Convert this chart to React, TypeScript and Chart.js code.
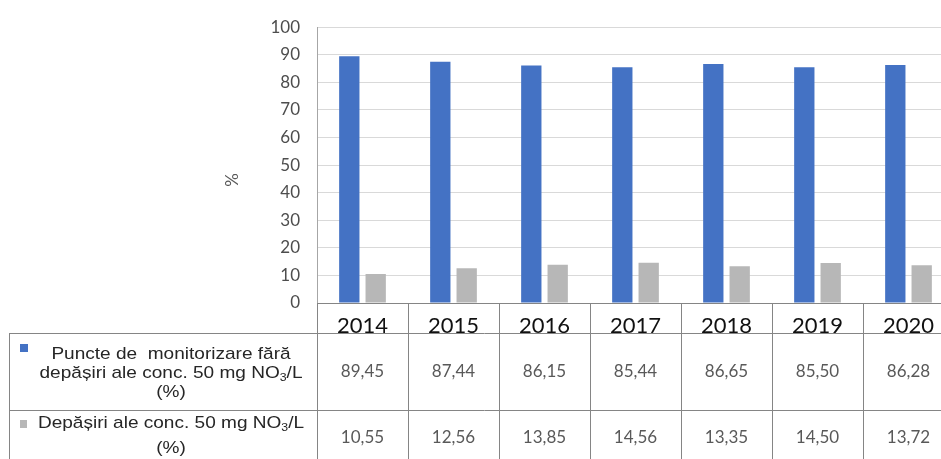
import React, { useEffect, useRef } from "react";
import { Chart, registerables } from "chart.js";
Chart.register(...registerables);

const years = ["2014", "2015", "2016", "2017", "2018", "2019", "2020"];
const withoutExceed = [89.45, 87.44, 86.15, 85.44, 86.65, 85.5, 86.28];
const exceed = [10.55, 12.56, 13.85, 14.56, 13.35, 14.5, 13.72];
const seriesNames = [
  ["Puncte de  monitorizare fără", "depășiri ale conc. 50 mg NO₃/L", "(%)"],
  ["Depășiri ale conc. 50 mg NO₃/L", "(%)"],
];
const seriesColors = ["#4472c4", "#b7b7b7"];
const yTitle = "%";
const yMin = 0;
const yMax = 100;
const yStep = 10;

function drawRich(ctx: CanvasRenderingContext2D, text: string, cx: number, cy: number, size: number, sx: number) {
  const parts = text.split("₃");
  const font = `${size}px "Liberation Sans", Arial, sans-serif`;
  const subFont = `${Math.round(size * 0.62)}px "Liberation Sans", Arial, sans-serif`;
  let total = 0;
  const widths: number[] = [];
  parts.forEach((p, i) => {
    ctx.font = font;
    const w = ctx.measureText(p).width;
    widths.push(w);
    total += w;
    if (i < parts.length - 1) {
      ctx.font = subFont;
      total += ctx.measureText("3").width;
    }
  });
  ctx.save();
  ctx.translate(cx, cy);
  ctx.scale(sx, 1);
  let x = -total / 2;
  ctx.textBaseline = "middle";
  ctx.textAlign = "left";
  parts.forEach((p, i) => {
    ctx.font = font;
    ctx.fillText(p, x, 0);
    x += widths[i];
    if (i < parts.length - 1) {
      ctx.font = subFont;
      ctx.fillText("3", x, size * 0.28);
      x += ctx.measureText("3").width;
    }
  });
  ctx.restore();
}

const tablePlugin = {
  id: "dataTable",
  afterDraw(chart: any) {
    const { ctx, chartArea } = chart;
    const n = years.length;
    const w = (chartArea.right - chartArea.left) / n;
    const top = chartArea.bottom;
    const headerBottom = top + 30;
    const row1Bottom = headerBottom + 77;
    const row2Bottom = row1Bottom + 53;
    const tableLeft = 9;
    const right = chart.width;
    ctx.save();
    ctx.strokeStyle = "#858585";
    ctx.lineWidth = 1;
    ctx.beginPath();
    for (let i = 0; i <= n; i++) {
      const xx = Math.round(chartArea.left + i * w) + 0.5;
      ctx.moveTo(xx, top);
      ctx.lineTo(xx, row2Bottom);
    }
    [headerBottom, row1Bottom, row2Bottom].forEach((yy) => {
      ctx.moveTo(tableLeft, yy + 0.5);
      ctx.lineTo(right, yy + 0.5);
    });
    ctx.moveTo(tableLeft + 0.5, headerBottom);
    ctx.lineTo(tableLeft + 0.5, row2Bottom);
    ctx.stroke();

    // y title
    ctx.save();
    ctx.translate(233, 180);
    ctx.rotate(-Math.PI / 2);
    ctx.fillStyle = "#595959";
    ctx.font = "17px Lato, sans-serif";
    ctx.textAlign = "center";
    ctx.textBaseline = "middle";
    ctx.fillText(yTitle, 0, 0);
    ctx.restore();

    // row headers
    const rows = [
      { top: headerBottom, bottom: row1Bottom, data: withoutExceed },
      { top: row1Bottom, bottom: row2Bottom, data: exceed },
    ];
    const labelCx = 171;
    rows.forEach((r, ri) => {
      const lines = seriesNames[ri];
      const startY = ri === 0 ? r.top + 21 : r.top + 13;
      const step = ri === 0 ? 19 : 25;
      ctx.fillStyle = "#262626";
      lines.forEach((ln, li) => {
        drawRich(ctx, ln, labelCx, startY + li * step, 17, 1.12);
      });
      ctx.fillStyle = seriesColors[ri];
      if (ri === 0) ctx.fillRect(20, r.top + 11, 8, 8);
      else ctx.fillRect(20, r.top + 10, 7, 8);
      // values
      ctx.fillStyle = "#595959";
      ctx.font = "17px Lato, sans-serif";
      ctx.textAlign = "center";
      ctx.textBaseline = "middle";
      r.data.forEach((v, i) => {
        const cx = chartArea.left + (i + 0.5) * w;
        ctx.fillText(v.toFixed(2).replace(".", ","), cx, ri === 0 ? r.top + 39 : r.top + 28);
      });
    });
    ctx.restore();
  },
};

export default function App() {
  const ref = useRef<HTMLCanvasElement>(null);
  useEffect(() => {
    if (!ref.current) return;
    const chart = new Chart(ref.current, {
      type: "bar",
      data: {
        labels: years,
        datasets: [
          { label: seriesNames[0].join(" "), data: withoutExceed, backgroundColor: seriesColors[0], categoryPercentage: 0.58, barPercentage: 0.77 },
          { label: seriesNames[1].join(" "), data: exceed, backgroundColor: seriesColors[1], categoryPercentage: 0.58, barPercentage: 0.77 },
        ],
      },
      options: {
        animation: false,
        responsive: false,
        maintainAspectRatio: false,
        layout: { padding: { left: 0, right: 6, top: 21, bottom: 0 } },
        plugins: { legend: { display: false }, tooltip: { enabled: false } },
        scales: {
          x: {
            grid: { display: false },
            border: { display: true, color: "#858585" },
            ticks: { color: "#111111", font: { family: "Lato", size: 22 }, padding: 2, maxRotation: 0 },
            afterFit(s: any) { s.height = 156; },
          },
          y: {
            min: yMin,
            max: yMax,
            ticks: { stepSize: yStep, color: "#4d4d4d", font: { family: "Lato", size: 17 }, padding: 17 },
            grid: { color: "#d9d9d9", drawTicks: false },
            border: { display: true, color: "#a6a6a6" },
            afterFit(s: any) { s.width = 317; },
          },
        },
      },
      plugins: [tablePlugin],
    });
    return () => chart.destroy();
  }, []);
  return (
    <div style={{ position: "fixed", left: 0, top: 0, width: 941, height: 459, overflow: "hidden", background: "#fff" }}>
      <canvas ref={ref} width={960} height={459} style={{ width: 960, height: 459, display: "block" }} />
    </div>
  );
}
